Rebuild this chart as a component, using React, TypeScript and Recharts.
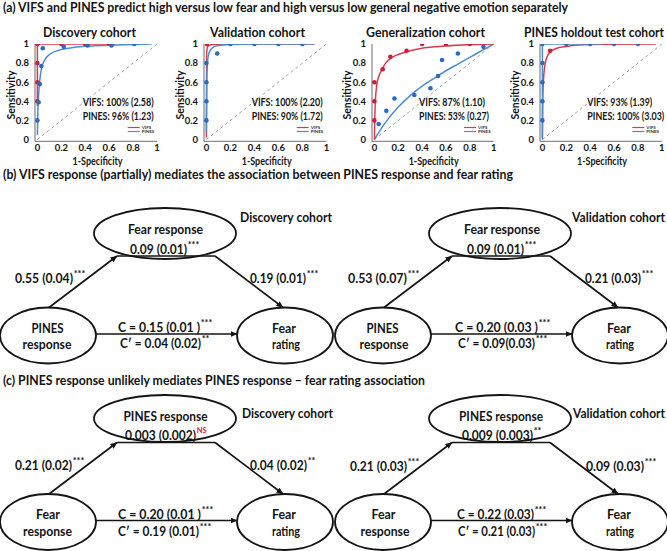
import React from 'react';
import { ComposedChart, Line, Scatter, XAxis, YAxis, ReferenceLine } from 'recharts';

const FONT = 'Lato, "Open Sans", "DejaVu Sans", sans-serif';
const RED = '#dc3a4e';
const BLUE = '#4a8bd6';
const RED_PT = '#c8203a';
const BLUE_PT = '#2a6bbf';
const INK = '#141414';

// ---------- data: ROC panels ----------
const axisTicks = [0, 0.2, 0.4, 0.6, 0.8, 1];
const cohortTitles = ['Discovery cohort', 'Validation cohort', 'Generalization cohort', 'PINES holdout test cohort'];
const vifsStats = ['VIFS: 100% (2.58)', 'VIFS: 100% (2.20)', 'VIFS: 87% (1.10)', 'VIFS: 93% (1.39)'];
const pinesStats = ['PINES: 96% (1.23)', 'PINES: 90% (1.72)', 'PINES: 53% (0.27)', 'PINES: 100% (3.03)'];
const legendNames = ['VIFS', 'PINES'];

// Discovery cohort
const discVifsCurve = [{ x: 0, y: 0.35 }, { x: 0, y: 1 }, { x: 0.65, y: 1 }];
const discPinesCurve = [
  { x: 0, y: 0.05 }, { x: 0.004, y: 0.3 }, { x: 0.01, y: 0.46 }, { x: 0.02, y: 0.62 }, { x: 0.035, y: 0.75 },
  { x: 0.06, y: 0.83 }, { x: 0.1, y: 0.89 }, { x: 0.18, y: 0.935 }, { x: 0.3, y: 0.963 }, { x: 0.45, y: 0.98 },
  { x: 0.65, y: 0.99 }, { x: 0.955, y: 1 },
];
const discVifsPts = [{ x: 0, y: 0.4 }, { x: 0, y: 0.6 }, { x: 0, y: 0.8 }, { x: 0, y: 1 }, { x: 0.2, y: 1 }, { x: 0.4, y: 1 }, { x: 0.6, y: 1 }];
const discPinesPts = [
  { x: 0, y: 0.2 }, { x: 0.01, y: 0.39 }, { x: 0.02, y: 0.58 }, { x: 0.033, y: 0.77 }, { x: 0.045, y: 0.955 },
  { x: 0.22, y: 0.97 }, { x: 0.42, y: 0.985 }, { x: 0.62, y: 0.985 }, { x: 0.81, y: 1 },
];

// Validation cohort
const valVifsCurve = [
  { x: 0, y: 0.02 }, { x: 0.002, y: 0.9 }, { x: 0.01, y: 0.975 }, { x: 0.05, y: 0.995 }, { x: 0.2, y: 1 }, { x: 0.9, y: 1 },
];
const valPinesCurve = [
  { x: 0, y: 0.08 }, { x: 0.003, y: 0.6 }, { x: 0.008, y: 0.78 }, { x: 0.015, y: 0.87 }, { x: 0.03, y: 0.93 },
  { x: 0.06, y: 0.97 }, { x: 0.1, y: 0.985 }, { x: 0.2, y: 0.995 }, { x: 0.4, y: 1 }, { x: 0.9, y: 1 },
];
const valVifsPts = [{ x: 0.005, y: 1 }];
const valPinesPts = [
  { x: 0, y: 0.2 }, { x: 0, y: 0.4 }, { x: 0, y: 0.6 }, { x: 0, y: 0.8 }, { x: 0.09, y: 0.9 },
  { x: 0.2, y: 1 }, { x: 0.4, y: 1 }, { x: 0.6, y: 1 }, { x: 0.8, y: 1 },
];

// Generalization cohort
const genVifsCurve = [
  { x: 0, y: 0 }, { x: 0.003, y: 0.2 }, { x: 0.008, y: 0.4 }, { x: 0.02, y: 0.57 }, { x: 0.04, y: 0.67 },
  { x: 0.07, y: 0.75 }, { x: 0.1, y: 0.81 }, { x: 0.15, y: 0.86 }, { x: 0.2, y: 0.89 }, { x: 0.3, y: 0.93 },
  { x: 0.4, y: 0.955 }, { x: 0.5, y: 0.97 }, { x: 0.6, y: 0.98 }, { x: 0.8, y: 0.993 }, { x: 1, y: 1 },
];
const genPinesCurve = [
  { x: 0, y: 0 }, { x: 0.05, y: 0.1 }, { x: 0.1, y: 0.19 }, { x: 0.2, y: 0.34 }, { x: 0.3, y: 0.46 },
  { x: 0.4, y: 0.56 }, { x: 0.5, y: 0.64 }, { x: 0.6, y: 0.72 }, { x: 0.7, y: 0.79 }, { x: 0.8, y: 0.86 },
  { x: 0.9, y: 0.93 }, { x: 1, y: 1 },
];
const genVifsPts = [
  { x: 0, y: 0.2 }, { x: 0, y: 0.4 }, { x: 0, y: 0.6 }, { x: 0.07, y: 0.735 }, { x: 0.134, y: 0.867 },
  { x: 0.27, y: 0.93 }, { x: 0.4, y: 1 }, { x: 0.6, y: 1 }, { x: 0.8, y: 1 },
];
const genPinesPts = [
  { x: 0.036, y: 0.162 }, { x: 0.1, y: 0.3 }, { x: 0.168, y: 0.43 }, { x: 0.335, y: 0.466 }, { x: 0.47, y: 0.536 },
  { x: 0.534, y: 0.665 }, { x: 0.567, y: 0.832 }, { x: 0.7, y: 0.9 }, { x: 0.914, y: 0.97 },
];

// PINES holdout test cohort
const holdVifsCurve = [
  { x: 0, y: 0.03 }, { x: 0.003, y: 0.4 }, { x: 0.008, y: 0.6 }, { x: 0.02, y: 0.77 }, { x: 0.04, y: 0.87 },
  { x: 0.07, y: 0.92 }, { x: 0.1, y: 0.945 }, { x: 0.2, y: 0.975 }, { x: 0.3, y: 0.99 }, { x: 0.5, y: 0.998 }, { x: 0.95, y: 1 },
];
const holdPinesCurve = [{ x: 0, y: 0 }, { x: 0, y: 1 }, { x: 0.5, y: 1 }];
const holdVifsPts = [{ x: 0.065, y: 0.93 }];
const holdPinesPts = [
  { x: 0, y: 0.2 }, { x: 0, y: 0.4 }, { x: 0, y: 0.6 }, { x: 0, y: 0.8 }, { x: 0, y: 1 },
  { x: 0.2, y: 1 }, { x: 0.4, y: 1 }, { x: 0.6, y: 1 }, { x: 0.8, y: 1 },
];

const panels = [
  { x0: 37.7, x1: 157.3, vifsCurve: discVifsCurve, pinesCurve: discPinesCurve, vifsPts: discVifsPts, pinesPts: discPinesPts, vifsType: 'linear', pinesType: 'monotone', redOnTop: true, titleCx: 89.5, titleW: 93, statW: [71, 71] },
  { x0: 206.7, x1: 326.7, vifsCurve: valVifsCurve, pinesCurve: valPinesCurve, vifsPts: valVifsPts, pinesPts: valPinesPts, vifsType: 'monotone', pinesType: 'monotone', redOnTop: false, titleCx: 257.5, titleW: 95, statW: [71, 71] },
  { x0: 374, x1: 493.3, vifsCurve: genVifsCurve, pinesCurve: genPinesCurve, vifsPts: genVifsPts, pinesPts: genPinesPts, vifsType: 'monotone', pinesType: 'monotone', redOnTop: true, titleCx: 425.5, titleW: 119, statW: [66, 70] },
  { x0: 542.3, x1: 661.7, vifsCurve: holdVifsCurve, pinesCurve: holdPinesCurve, vifsPts: holdVifsPts, pinesPts: holdPinesPts, vifsType: 'monotone', pinesType: 'linear', redOnTop: false, titleCx: 594, titleW: 140, statW: [65, 77] },
];

// ---------- data: section titles ----------
const sectionTitles = [
  '(a) VIFS and PINES predict high versus low fear and high versus low general negative emotion separately',
  '(b) VIFS response (partially) mediates the association between PINES response and fear rating',
  '(c) PINES response unlikely mediates PINES response \u2013 fear rating association',
];

// ---------- data: mediation diagrams ----------
type Item = { t: string; x: number; y: number; w: number; a?: 'start' | 'middle'; sup?: string; supColor?: string; s?: number };

const diagB1: Item[] = [
  { t: 'Discovery cohort', x: 240, y: 217, w: 92, s: 13 },
  { t: 'Fear response', x: 165.5, y: 229, w: 75, a: 'middle', s: 13.5 },
  { t: '0.09 (0.01)', x: 130, y: 248.5, w: 57, sup: '***' },
  { t: '0.55 (0.04)', x: 15, y: 278, w: 58, sup: '***' },
  { t: '0.19 (0.01)', x: 250, y: 278, w: 56, sup: '***' },
  { t: 'PINES', x: 47.5, y: 327.5, w: 32, a: 'middle', s: 13.5 },
  { t: 'response', x: 47, y: 344, w: 49, a: 'middle', s: 13.5 },
  { t: 'Fear', x: 284, y: 327.5, w: 24, a: 'middle', s: 13.5 },
  { t: 'rating', x: 286, y: 344, w: 28, a: 'middle', s: 13.5 },
  { t: 'C = 0.15 (0.01 )', x: 118, y: 326.5, w: 82, sup: '***' },
  { t: 'C\u2032 = 0.04 (0.02)', x: 120, y: 342.5, w: 81, sup: '**' },
];
const diagB2: Item[] = [
  { t: 'Validation cohort', x: 572, y: 217, w: 93, s: 13 },
  { t: 'Fear response', x: 502, y: 229, w: 76, a: 'middle', s: 13.5 },
  { t: '0.09 (0.01)', x: 467, y: 248.5, w: 57, sup: '***' },
  { t: '0.53 (0.07)', x: 348, y: 278, w: 59, sup: '***' },
  { t: '0.21 (0.03)', x: 585, y: 278, w: 56, sup: '***' },
  { t: 'PINES', x: 382.5, y: 327.5, w: 32, a: 'middle', s: 13.5 },
  { t: 'response', x: 384, y: 344, w: 49, a: 'middle', s: 13.5 },
  { t: 'Fear', x: 619, y: 327.5, w: 24, a: 'middle', s: 13.5 },
  { t: 'rating', x: 620, y: 344, w: 28, a: 'middle', s: 13.5 },
  { t: 'C = 0.20 (0.03 )', x: 455, y: 326.5, w: 83, sup: '***' },
  { t: 'C\u2032 = 0.09(0.03)', x: 458, y: 342.5, w: 77, sup: '***' },
];
const diagC1: Item[] = [
  { t: 'Discovery cohort', x: 242, y: 413, w: 91, s: 13 },
  { t: 'PINES response', x: 165.5, y: 416, w: 84, a: 'middle', s: 13.5 },
  { t: '0.003 (0.002)', x: 125, y: 435, w: 71, sup: 'NS', supColor: '#e8231e' },
  { t: '0.21 (0.02)', x: 15, y: 464.5, w: 57, sup: '***' },
  { t: '0.04 (0.02)', x: 250, y: 464.5, w: 57, sup: '**' },
  { t: 'Fear', x: 48, y: 514, w: 24, a: 'middle', s: 13.5 },
  { t: 'response', x: 47.5, y: 531, w: 49, a: 'middle', s: 13.5 },
  { t: 'Fear', x: 284, y: 514, w: 24, a: 'middle', s: 13.5 },
  { t: 'rating', x: 286, y: 531, w: 28, a: 'middle', s: 13.5 },
  { t: 'C = 0.20 (0.01 )', x: 118, y: 514, w: 83, sup: '***' },
  { t: 'C\u2032 = 0.19 (0.01)', x: 118, y: 531, w: 81, sup: '***' },
];
const diagC2: Item[] = [
  { t: 'Validation cohort', x: 573, y: 413, w: 92, s: 13 },
  { t: 'PINES response', x: 501, y: 416, w: 84, a: 'middle', s: 13.5 },
  { t: '0.009 (0.003)', x: 462, y: 435, w: 71, sup: '**' },
  { t: '0.21 (0.03)', x: 350, y: 466, w: 57, sup: '***' },
  { t: '0.09 (0.03)', x: 586, y: 466, w: 58, sup: '***' },
  { t: 'Fear', x: 383.5, y: 514, w: 24, a: 'middle', s: 13.5 },
  { t: 'response', x: 385, y: 531, w: 49, a: 'middle', s: 13.5 },
  { t: 'Fear', x: 619, y: 514, w: 24, a: 'middle', s: 13.5 },
  { t: 'rating', x: 620, y: 531, w: 28, a: 'middle', s: 13.5 },
  { t: 'C = 0.22 (0.03)', x: 457, y: 514, w: 77, sup: '***' },
  { t: 'C\u2032 = 0.21 (0.03)', x: 458, y: 531, w: 77, sup: '***' },
];

const rowB = { topCy: 233.5, topRy: 25.5, chordY: 256, botCy: 335.5, botRy: 28 };
const rowC = { topCy: 418.5, topRy: 23.5, chordY: 442.5, botCy: 522, botRy: 28 };

// ---------- components ----------
const T = ({ it }: { it: Item }) => {
  const size = it.s ?? 13;
  const start = it.a === 'middle' ? it.x - it.w / 2 : it.x;
  return (
    <g>
      <text x={start} y={it.y} fontSize={size} fontWeight={700} dominantBaseline="central" textLength={it.w} lengthAdjust="spacingAndGlyphs" fill={INK}>
        {it.t}
      </text>
      {it.sup ? (
        <text
          x={start + it.w + 0.8}
          y={it.y - 4.5}
          fontSize={it.sup === 'NS' ? 7.5 : 9}
          fontWeight={700}
          dominantBaseline="central"
          fill={it.supColor ?? INK}
        >
          {it.sup}
        </text>
      ) : null}
    </g>
  );
};

const Diagram = ({ dx, row, items }: { dx: number; row: typeof rowB; items: Item[] }) => {
  const topCx = 165 + dx;
  const lCx = 48 + dx;
  const rCx = 285 + dx;
  const botTop = row.botCy - row.botRy;
  return (
    <g>
      <ellipse cx={topCx} cy={row.topCy} rx={71} ry={row.topRy} fill="#fff" stroke={INK} strokeWidth={1.8} />
      <ellipse cx={lCx} cy={row.botCy} rx={48} ry={row.botRy} fill="#fff" stroke={INK} strokeWidth={1.8} />
      <ellipse cx={rCx} cy={row.botCy} rx={48} ry={row.botRy} fill="#fff" stroke={INK} strokeWidth={1.8} />
      <line x1={49 + dx} y1={botTop} x2={117 + dx} y2={row.chordY} stroke={INK} strokeWidth={1.7} markerEnd="url(#arrowHead)" />
      <line x1={117 + dx} y1={row.chordY} x2={215 + dx} y2={row.chordY} stroke={INK} strokeWidth={1.5} />
      <line x1={215 + dx} y1={row.chordY} x2={283 + dx} y2={botTop} stroke={INK} strokeWidth={1.7} markerEnd="url(#arrowHead)" />
      <line x1={96 + dx} y1={row.botCy - 1.5} x2={237 + dx} y2={row.botCy - 1.5} stroke={INK} strokeWidth={1.7} markerEnd="url(#arrowHead)" />
      {items.map((it, i) => (
        <T key={i} it={it} />
      ))}
    </g>
  );
};

const tickStyle = { fontSize: 9.5, fontWeight: 700, fill: INK, fontFamily: FONT };

const dotShape = (color: string) => (props: any) => <circle cx={props.cx} cy={props.cy} r={2.3} fill={color} />;

const RocPanel = ({ p }: { p: (typeof panels)[number] }) => {
  const pw = p.x1 - p.x0;
  const plotLeft = p.x0 - 0.02 * pw;
  const plotW = p.x1 - plotLeft;
  const yAxisW = 30;
  const top = 44;
  const plotH = (139.5 - 44) * 1.02;
  const H = 170;
  const xAxisH = 16;
  const right = 6;
  const W = yAxisW + plotW + right;
  const redLine = (
    <Line key="v" data={p.vifsCurve} dataKey="y" type={p.vifsType as any} stroke={RED} strokeWidth={1.5} dot={false} activeDot={false} isAnimationActive={false} />
  );
  const blueLine = (
    <Line key="p" data={p.pinesCurve} dataKey="y" type={p.pinesType as any} stroke={BLUE} strokeWidth={1.5} dot={false} activeDot={false} isAnimationActive={false} />
  );
  const ordered = p.redOnTop ? [blueLine, redLine] : [redLine, blueLine];
  return (
    <div style={{ position: 'absolute', left: plotLeft - yAxisW, top: 0 }}>
      <ComposedChart width={W} height={H} margin={{ top, right, left: 0, bottom: H - top - plotH - xAxisH }}>
        <XAxis
          type="number"
          dataKey="x"
          domain={[-0.02, 1]}
          ticks={axisTicks}
          interval={0}
          height={xAxisH}
          tickLine={false}
          tickSize={2}
          tickMargin={1}
          axisLine={{ stroke: '#8c8c8c', strokeWidth: 1.3 }}
          tick={tickStyle}
          allowDataOverflow
        />
        <YAxis
          type="number"
          dataKey="y"
          domain={[-0.02, 1]}
          ticks={axisTicks}
          interval={0}
          width={yAxisW}
          tickLine={false}
          tickSize={4}
          tickMargin={2}
          axisLine={{ stroke: '#8c8c8c', strokeWidth: 1.3 }}
          tick={tickStyle}
          allowDataOverflow
        />
        <ReferenceLine segment={[{ x: 0, y: 0 }, { x: 1, y: 1 }]} stroke="#a0a0a0" strokeDasharray="3 3" strokeWidth={1} ifOverflow="visible" />
        {ordered}
        <Scatter data={p.vifsPts} dataKey="y" fill={RED_PT} shape={dotShape(RED_PT)} isAnimationActive={false} />
        <Scatter data={p.pinesPts} dataKey="y" fill={BLUE_PT} shape={dotShape(BLUE_PT)} isAnimationActive={false} />
      </ComposedChart>
    </div>
  );
};

const PanelText = ({ p, i }: { p: (typeof panels)[number]; i: number }) => {
  const cx = (p.x0 + p.x1) / 2;
  const lx = p.x0 + 90;
  return (
    <g>
      <T it={{ t: cohortTitles[i], x: p.titleCx, y: 32, w: p.titleW, a: 'middle', s: 13 }} />
      <T it={{ t: vifsStats[i], x: p.x0 + 45, y: 101.5, w: p.statW[0], s: 11 }} />
      <T it={{ t: pinesStats[i], x: p.x0 + 45, y: 115, w: p.statW[1], s: 11 }} />
      <text x={p.x0 - 27} y={95} fontSize={10.5} fontWeight={700} textAnchor="middle" dominantBaseline="central" fill={INK} transform={`rotate(-90 ${p.x0 - 27} 95)`}>
        Sensitivity
      </text>
      <T it={{ t: '1-Specificity', x: cx, y: 161, w: 50, a: 'middle', s: 10.5 }} />
      <line x1={lx} y1={127.5} x2={lx + 12} y2={127.5} stroke={RED} strokeWidth={1.2} />
      <line x1={lx} y1={131.5} x2={lx + 12} y2={131.5} stroke={BLUE} strokeWidth={1.2} />
      <text x={lx + 14} y={127.5} fontSize={4.5} fontWeight={700} dominantBaseline="central" fill="#333">{legendNames[0]}</text>
      <text x={lx + 14} y={131.7} fontSize={4.5} fontWeight={700} dominantBaseline="central" fill="#333">{legendNames[1]}</text>
    </g>
  );
};

export default function App() {
  return (
    <div style={{ position: 'fixed', left: 0, top: 0, width: 667, height: 551, background: '#fff', overflow: 'hidden', fontFamily: FONT }}>
      {panels.map((p, i) => (
        <RocPanel key={i} p={p} />
      ))}
      <svg width={667} height={551} style={{ position: 'absolute', left: 0, top: 0, pointerEvents: 'none', fontFamily: FONT }}>
        <defs>
          <marker id="arrowHead" markerWidth={7} markerHeight={6} refX={6.5} refY={3} orient="auto" markerUnits="userSpaceOnUse">
            <path d="M0,0 L7,3 L0,6 z" fill={INK} />
          </marker>
        </defs>
        <T it={{ t: sectionTitles[0], x: 3, y: 7, w: 565, s: 12.5 }} />
        <T it={{ t: sectionTitles[1], x: 3, y: 174, w: 510, s: 12.5 }} />
        <T it={{ t: sectionTitles[2], x: 3, y: 380, w: 422, s: 12.5 }} />
        {panels.map((p, i) => (
          <PanelText key={i} p={p} i={i} />
        ))}
        <Diagram dx={0} row={rowB} items={diagB1} />
        <Diagram dx={335} row={rowB} items={diagB2} />
        <Diagram dx={0} row={rowC} items={diagC1} />
        <Diagram dx={335} row={rowC} items={diagC2} />
      </svg>
    </div>
  );
}
